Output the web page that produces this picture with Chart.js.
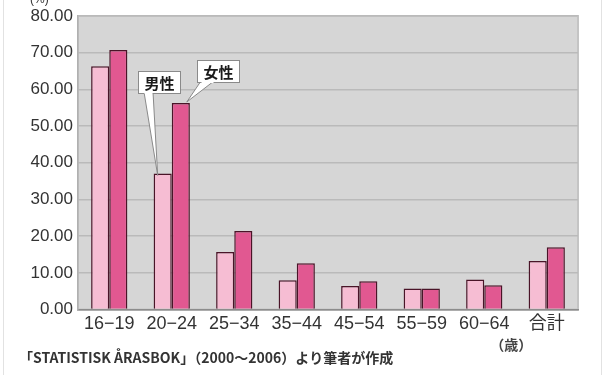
<!DOCTYPE html>
<html>
<head>
<meta charset="utf-8">
<script src="https://cdn.jsdelivr.net/npm/chart.js@4/dist/chart.umd.min.js"></script>
<style>
  html, body { margin: 0; padding: 0; background: #ffffff; }
  #wrap { width: 608px; height: 375px; position: relative; }
</style>
</head>
<body>
<div id="wrap"><canvas id="c" width="608" height="375"></canvas></div>
<script>
// Age groups (years) and share (%) by sex
const ageGroups = ['16−19', '20−24', '25−34', '35−44', '45−54', '55−59', '60−64', '合計'];
const maleValues = [66.3, 37.1, 15.7, 8.0, 6.4, 5.7, 8.2, 13.2];
const femaleValues = [70.7, 56.3, 21.4, 12.6, 7.7, 5.7, 6.6, 17.0];
const seriesNames = ['男性', '女性'];
const yMin = 0, yMax = 80, yStep = 10;
const unitLabel = '(%)';
const ageUnitLabel = '（歳）';
const sourceNote = '「STATISTISK ÅRASBOK」（2000～2006）より筆者が作成';

const MALE_FILL = '#f6bdd3';
const FEMALE_FILL = '#e15891';
const BAR_EDGE = '#4a1428';

// Gray plot background plus frame lines around the page
const frame = {
  id: 'frame',
  beforeDraw(chart) {
    const { ctx, chartArea: a } = chart;
    ctx.save();
    ctx.fillStyle = '#d6d6d6';
    ctx.fillRect(a.left, a.top, a.right - a.left, a.bottom - a.top);
    ctx.strokeStyle = '#c4c4c4';
    ctx.lineWidth = 2;
    ctx.strokeRect(a.left, a.top, a.right - a.left, a.bottom - a.top);
    // faint page edges
    ctx.strokeStyle = '#e2e2e2';
    ctx.lineWidth = 1;
    ctx.beginPath();
    ctx.moveTo(3.5, 0); ctx.lineTo(3.5, 375);
    ctx.moveTo(601.5, 0); ctx.lineTo(601.5, 375);
    ctx.stroke();
    ctx.restore();
  },
  afterDraw(chart) {
    const { ctx } = chart;
    ctx.save();
    ctx.fillStyle = '#333';
    ctx.font = '12px "Liberation Sans", sans-serif';
    ctx.textBaseline = 'alphabetic';
    ctx.fillText(unitLabel, 30, 3);
    // unit under the 60-64 label
    const xs = chart.scales.x;
    ctx.font = '600 14px "Noto Sans CJK JP", sans-serif';
    ctx.textAlign = 'center';
    ctx.textBaseline = 'middle';
    ctx.fillStyle = '#444';
    ctx.fillText(ageUnitLabel, xs.getPixelForValue(6) + 27, 345);
    // source note
    ctx.textAlign = 'left';
    ctx.fillStyle = '#333';
    ctx.font = '600 14px "Noto Sans CJK JP", sans-serif';
    ctx.fillText(sourceNote, 19, 358);
    ctx.restore();
  }
};

// Callout boxes naming the two series, pointing at the 20-24 bars
const callouts = {
  id: 'callouts',
  afterDatasetsDraw(chart) {
    const { ctx } = chart;
    const m = chart.getDatasetMeta(0).data[1];
    const f = chart.getDatasetMeta(1).data[1];
    const boxes = [
      { text: seriesNames[0], x: 138, y: 71, w: 42, h: 22,
        base: [144, 153], tip: [m.x - 5, m.y + 2] },
      { text: seriesNames[1], x: 197, y: 60, w: 42, h: 22,
        base: [201, 214], tip: [f.x + 6, f.y - 1] }
    ];
    ctx.save();
    boxes.forEach(b => {
      ctx.fillStyle = '#ffffff';
      ctx.strokeStyle = '#8a8a8a';
      ctx.lineWidth = 1;
      // pointer wedge
      ctx.beginPath();
      ctx.moveTo(b.base[0], b.y + b.h - 1);
      ctx.lineTo(b.tip[0], b.tip[1]);
      ctx.lineTo(b.base[1], b.y + b.h - 1);
      ctx.closePath();
      ctx.fill();
      ctx.stroke();
      ctx.fillRect(b.x, b.y, b.w, b.h);
      ctx.strokeRect(b.x + 0.5, b.y + 0.5, b.w, b.h);
      // hide wedge seam
      ctx.fillRect(b.base[0] + 0.5, b.y + b.h - 2, b.base[1] - b.base[0] - 1, 3);
      ctx.fillStyle = '#1a1a1a';
      ctx.font = '600 15px "Noto Sans CJK JP", sans-serif';
      ctx.textAlign = 'center';
      ctx.textBaseline = 'middle';
      ctx.fillText(b.text, b.x + b.w / 2 + 0.5, b.y + b.h / 2 + 1);
    });
    ctx.restore();
  }
};

new Chart(document.getElementById('c'), {
  type: 'bar',
  data: {
    labels: ageGroups,
    datasets: [
      { label: seriesNames[0], data: maleValues, backgroundColor: MALE_FILL,
        borderColor: BAR_EDGE, borderWidth: 1.5, borderSkipped: 'bottom' },
      { label: seriesNames[1], data: femaleValues, backgroundColor: FEMALE_FILL,
        borderColor: BAR_EDGE, borderWidth: 1.5, borderSkipped: 'bottom' }
    ]
  },
  options: {
    responsive: false,
    animation: false,
    devicePixelRatio: 1,
    layout: { padding: { left: 0, top: 16, right: 30, bottom: 35.5 } },
    datasets: { bar: { categoryPercentage: 0.58, barPercentage: 1.0 } },
    plugins: { legend: { display: false }, tooltip: { enabled: false } },
    scales: {
      x: {
        grid: { display: false, drawTicks: false },
        border: { display: true, color: '#8c8c8c', width: 1.5 },
        ticks: {
          color: '#333', padding: 4, maxRotation: 0, autoSkip: false,
          font: { family: '"Liberation Sans", "Noto Sans CJK JP", sans-serif', size: 18 }
        },
        afterFit(s) { s.height = 30; }
      },
      y: {
        min: yMin, max: yMax,
        grid: { color: '#bababa', lineWidth: 1.5, drawTicks: false },
        border: { display: true, color: '#b0b0b0', width: 1.5 },
        ticks: {
          stepSize: yStep, color: '#333', padding: 5,
          font: { family: '"Liberation Sans", sans-serif', size: 17 },
          callback: v => Number(v).toFixed(2)
        },
        afterFit(s) { s.width = 78; }
      }
    }
  },
  plugins: [frame, callouts]
});
</script>
</body>
</html>
